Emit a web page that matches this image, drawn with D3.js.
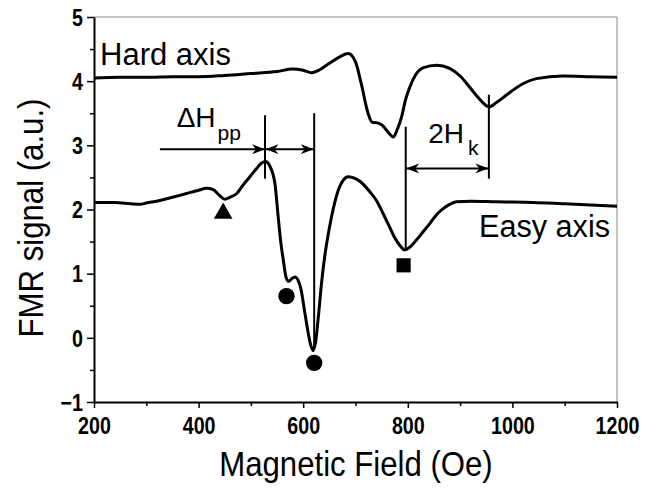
<!DOCTYPE html>
<html>
<head>
<meta charset="utf-8">
<script src="https://cdn.jsdelivr.net/npm/d3@7"></script>
<style>
  body { margin: 0; background: #fff; }
  text { font-family: "Liberation Sans", Arial, sans-serif; }
</style>
</head>
<body>
<svg id="chart"></svg>
<script>
// field values (Oe) and signal (a.u.)
const hardField = [200, 250, 300, 350, 400, 450, 500, 550, 580, 600, 616, 630, 650, 670, 686, 700, 711, 724, 732, 742, 750, 757, 765, 772, 780, 788, 796, 804, 815, 830, 855, 880, 900, 918, 935, 955, 970, 988, 1020, 1046, 1096, 1150, 1200]
const hardSignal = [4.05, 4.06, 4.06, 4.07, 4.07, 4.09, 4.12, 4.15, 4.19, 4.17, 4.13, 4.17, 4.28, 4.38, 4.43, 4.30, 3.96, 3.50, 3.36, 3.35, 3.32, 3.26, 3.18, 3.13, 3.25, 3.44, 3.72, 3.91, 4.10, 4.21, 4.25, 4.20, 4.08, 3.91, 3.74, 3.60, 3.67, 3.78, 3.96, 4.04, 4.08, 4.07, 4.06]

const easyField = [200, 240, 270, 288, 300, 326, 350, 377, 400, 415, 428, 440, 450, 460, 473, 485, 498, 510, 520, 528, 536, 546, 552, 557, 562, 567, 572, 578, 584, 590, 596, 602, 608, 614, 619, 624, 629, 635, 641, 648, 654, 660, 667, 676, 686, 700, 714, 727, 740, 752, 765, 775, 785, 794, 805, 816, 830, 842, 855, 867, 880, 893, 920, 969, 1040, 1096, 1150, 1200]
const easySignal = [2.11, 2.11, 2.09, 2.08, 2.10, 2.14, 2.19, 2.25, 2.30, 2.33, 2.31, 2.22, 2.16, 2.19, 2.25, 2.38, 2.51, 2.63, 2.72, 2.75, 2.68, 2.40, 1.90, 1.50, 1.21, 0.95, 0.88, 0.92, 0.95, 0.90, 0.75, 0.45, 0.15, -0.10, -0.20, -0.05, 0.33, 0.85, 1.26, 1.62, 1.88, 2.10, 2.30, 2.45, 2.51, 2.48, 2.40, 2.28, 2.14, 1.95, 1.73, 1.56, 1.44, 1.37, 1.42, 1.52, 1.66, 1.78, 1.92, 2.01, 2.08, 2.12, 2.13, 2.12, 2.11, 2.09, 2.07, 2.05]

// markers under the resonance features
const markField = [447, 568, 621, 792]
const markSignal = [1.94, 0.65, -0.39, 1.13]
const markShape = ["triangle", "circle", "circle", "square"]

const xTicks = [200, 400, 600, 800, 1000, 1200]
const yTicks = [-1, 0, 1, 2, 3, 4, 5]

const width = 660, height = 489
const margin = {top: 17, right: 43, bottom: 87, left: 94}

const svg = d3.select("#chart").attr("width", width).attr("height", height)

const x = d3.scaleLinear().domain([200, 1200]).range([margin.left, width - margin.right])
const y = d3.scaleLinear().domain([-1, 5]).range([height - margin.bottom, margin.top])

// frame: thin grey top/right
svg.append("line")
   .attr("x1", x(200)).attr("x2", x(1200)).attr("y1", y(5)).attr("y2", y(5))
   .attr("stroke", "#888").attr("stroke-width", 1)
svg.append("line")
   .attr("x1", x(1200)).attr("x2", x(1200)).attr("y1", y(5)).attr("y2", y(-1))
   .attr("stroke", "#888").attr("stroke-width", 1)

// minor ticks
svg.append("g")
   .attr("transform", `translate(0,${y(-1)})`)
   .call(d3.axisBottom(x).tickValues(d3.range(300, 1200, 200)).tickSize(4).tickFormat(""))
   .call(g => g.select(".domain").remove())
   .selectAll("line").attr("stroke-width", 1.5)
svg.append("g")
   .attr("transform", `translate(${x(200)},0)`)
   .call(d3.axisLeft(y).tickValues(d3.range(-0.5, 5, 1)).tickSize(4).tickFormat(""))
   .call(g => g.select(".domain").remove())
   .selectAll("line").attr("stroke-width", 1.5)

const xAxis = svg.append("g")
   .attr("transform", `translate(0,${y(-1)})`)
   .call(d3.axisBottom(x).tickValues(xTicks).tickFormat(d3.format("d")).tickSize(6).tickSizeOuter(0))
const yAxis = svg.append("g")
   .attr("transform", `translate(${x(200)},0)`)
   .call(d3.axisLeft(y).tickValues(yTicks).tickFormat(d3.format("d")).tickSize(7).tickSizeOuter(0))

// axis text is a condensed bold face
const tickNarrow = 0.82
for (const ax of [xAxis, yAxis]) {
  ax.select(".domain").attr("stroke-width", 2)
  ax.selectAll(".tick line").attr("stroke-width", 1.5)
  ax.selectAll("text")
    .attr("font-family", '"Liberation Sans", Arial, sans-serif')
    .attr("font-size", 24).attr("font-weight", "bold").attr("fill", "#000")
    .attr("transform", `scale(${tickNarrow},1)`)
}
xAxis.selectAll("text").attr("y", 32).attr("dy", null)
yAxis.selectAll("text").attr("x", -11 / tickNarrow).attr("dy", "0.34em")

function label(px, py, size, str, anchor = "start", rot = 0, sx = 1) {
  return svg.append("text")
     .attr("transform", `translate(${px},${py}) rotate(${rot}) scale(${sx},1)`)
     .attr("text-anchor", anchor).attr("font-size", size)
     .text(str)
}

// axis titles
label(356, 476, 35, "Magnetic Field (Oe)", "middle", 0, 0.89)
label(43, 218, 35, "FMR signal (a.u.)", "middle", -90, 0.89)

// curves
const line = d3.line().x(d => x(d[0])).y(d => y(d[1])).curve(d3.curveMonotoneX)
svg.append("path")
   .datum(d3.zip(hardField, hardSignal))
   .attr("d", line).attr("fill", "none").attr("stroke", "#000").attr("stroke-width", 3)
svg.append("path")
   .datum(d3.zip(easyField, easySignal))
   .attr("d", line).attr("fill", "none").attr("stroke", "#000").attr("stroke-width", 3)

// symbols
const symType = {triangle: d3.symbolTriangle, circle: d3.symbolCircle, square: d3.symbolSquare}
const symSize = {triangle: 150, circle: 210, square: 200}
svg.selectAll(".mark")
   .data(d3.zip(markField, markSignal, markShape))
   .join("path")
   .attr("transform", d => `translate(${x(d[0])},${y(d[1])})`)
   .attr("d", d => d3.symbol(symType[d[2]], symSize[d[2]])())
   .attr("fill", "#000")

// arrowheads
const defs = svg.append("defs")
defs.append("marker")
    .attr("id", "head").attr("viewBox", "0 0 13 10")
    .attr("refX", 13).attr("refY", 5)
    .attr("markerWidth", 13).attr("markerHeight", 10)
    .attr("markerUnits", "userSpaceOnUse")
    .attr("orient", "auto-start-reverse")
  .append("path").attr("d", "M0,0 L13,5 L0,10 L4,5 Z").attr("fill", "#000")

function vline(f, v0, v1) {
  svg.append("line")
     .attr("x1", x(f)).attr("x2", x(f)).attr("y1", y(v0)).attr("y2", y(v1))
     .attr("stroke", "#000").attr("stroke-width", 2)
}
function arrow(f0, f1, v, both) {
  const l = svg.append("line")
     .attr("x1", x(f0)).attr("x2", x(f1)).attr("y1", y(v)).attr("y2", y(v))
     .attr("stroke", "#000").attr("stroke-width", 2)
     .attr("marker-end", "url(#head)")
  if (both) l.attr("marker-start", "url(#head)")
}

// delta H_pp
vline(527, 3.47, 2.48)
vline(621, 3.50, -0.15)
arrow(326, 527, 2.94, false)
arrow(528, 620, 2.94, true)

// 2H_k
vline(796, 3.29, 1.37)
vline(955, 3.79, 2.48)
arrow(797, 954, 2.64, true)

// labels
const dh = label(x(358), 127, 28, "")
dh.append("tspan").text("ΔH")
dh.append("tspan").attr("font-size", 21).attr("dy", 13).attr("dx", 2).text("pp")

const hk = label(x(839), 143, 28, "")
hk.append("tspan").text("2H")
hk.append("tspan").attr("font-size", 21).attr("dy", 12).attr("dx", 4).text("k")

label(100, 65, 31, "Hard axis")
label(610, 237, 30.6, "Easy axis", "end")
</script>
</body>
</html>
